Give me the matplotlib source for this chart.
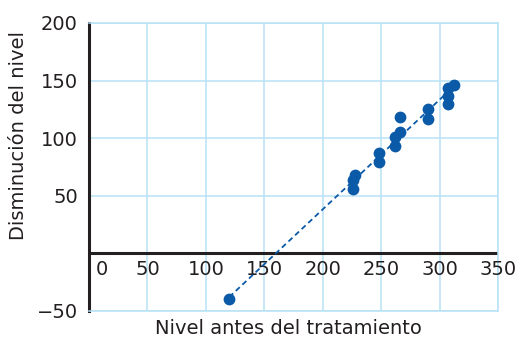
import matplotlib.pyplot as plt
import matplotlib.transforms as mtransforms
import numpy as np

# values
nivel_antes = [120, 226, 226, 228, 248, 248, 262, 262, 266, 266, 290, 290, 307, 307, 307, 312]
disminucion = [-40, 56, 64, 68, 79, 87, 93, 101, 105, 118, 117, 125, 130, 137, 144, 146]
x_ticks = [0, 50, 100, 150, 200, 250, 300, 350]
y_ticks = [-50, 50, 100, 150, 200]

blue = "#0a5aa8"
grid_blue = "#b8e2f6"
dark = "#231f20"
fs = 14

plt.rcParams['font.family'] = ['DejaVu Sans']

fig = plt.figure(figsize=(5.18, 3.37), dpi=100)
ax = fig.add_axes([89/518, 1 - 311/337, 409/518, 288/337])

ax.set_xlim(0, 350)
ax.set_ylim(-50, 200)
ax.set_xticks(x_ticks)
ax.set_yticks(y_ticks)
ax.grid(True, color=grid_blue, lw=1.1)
ax.set_axisbelow(True)
ax.tick_params(length=0, labelsize=fs, labelcolor=dark, pad=8)
ax.set_xticklabels([])

for s in ['top', 'right', 'bottom']:
    ax.spines[s].set_color(grid_blue)
    ax.spines[s].set_linewidth(1.1)
ax.spines['left'].set_color(dark)
ax.spines['left'].set_linewidth(2.2)
ax.axhline(0, color=dark, lw=2.2, zorder=2)

# x tick labels sit just under the zero line
for t in x_ticks:
    dx = 13 if t == 0 else 0
    off = mtransforms.offset_copy(ax.transData, fig=fig, x=dx, y=-7, units='dots')
    ax.text(t, 0, str(t), transform=off, ha='center', va='top',
            fontsize=fs, color=dark)

# fitted line
m, b = np.polyfit(nivel_antes, disminucion, 1)
xf = np.array([min(nivel_antes), 307])
ax.plot(xf, m * xf + b, ls=(0, (3, 2)), color=blue, lw=1.3, zorder=3)

ax.scatter(nivel_antes, disminucion, s=72, color=blue, zorder=4, linewidths=0)

ax.set_xlabel("Nivel antes del tratamiento", fontsize=fs, color=dark)
ax.xaxis.set_label_coords(0.487, -0.028)
ax.set_ylabel("Disminución del nivel", fontsize=fs, color=dark)
ax.yaxis.set_label_coords(-0.149, 0.611)

plt.savefig('out.png', dpi=100)
